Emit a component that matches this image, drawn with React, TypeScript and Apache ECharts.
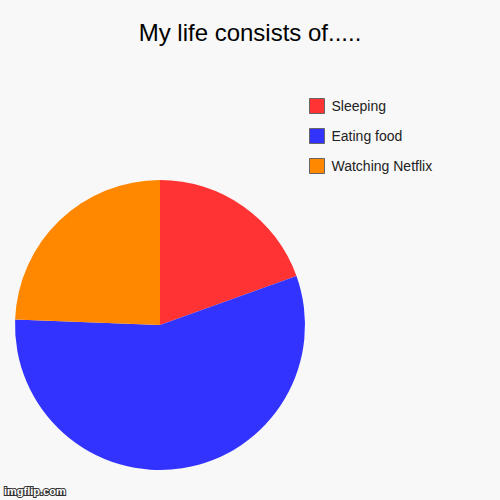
import * as echarts from "echarts";
import { useEffect, useRef } from "react";

const categories = ["Sleeping", "Eating food", "Watching Netflix"];
const values = [8, 23, 10];
const colors = ["#ff3333", "#3333ff", "#ff8800"];

const App = () => {
  const chartRef = useRef(null);

  useEffect(() => {
    if (!chartRef.current) {
      return;
    }
    const chart = echarts.init(chartRef.current, null, { renderer: "svg" });
    chart.setOption({
      animation: false,
      backgroundColor: "#f8f8f8",
      title: {
        text: "My life consists of.....",
        left: "center",
        top: 15,
        textStyle: {
          fontFamily: "Liberation Sans, Arial, sans-serif",
          fontSize: 24,
          fontWeight: "normal",
          color: "#000",
        },
      },
      legend: {
        orient: "vertical",
        left: 309,
        top: 98,
        padding: 0,
        itemWidth: 15,
        itemHeight: 15,
        itemGap: 14,
        icon: "rect",
        data: categories,
        itemStyle: { borderColor: "#666", borderWidth: 1 },
        textStyle: {
          fontFamily: "Liberation Sans, Arial, sans-serif",
          fontSize: 14,
          color: "#222",
          padding: [0, 0, 0, 2],
        },
      },
      graphic: [
        {
          type: "text",
          left: 3,
          top: 484,
          style: {
            text: "imgflip.com",
            fontFamily: "Liberation Sans, Arial, sans-serif",
            fontSize: 11,
            fontWeight: "bold",
            fill: "#fff",
            stroke: "#333",
            lineWidth: 2,
          },
        },
      ],
      series: [
        {
          type: "pie",
          center: [160, 325],
          radius: 145,
          startAngle: 90,
          clockwise: true,
          label: { show: false },
          labelLine: { show: false },
          emphasis: { disabled: true },
          data: categories.map((name, i) => ({
            name,
            value: values[i],
            itemStyle: { color: colors[i] },
          })),
        },
      ],
    });
    return () => {
      chart.dispose();
    };
  }, []);

  return (
    <div
      ref={chartRef}
      style={{ position: "fixed", left: 0, top: 0, width: "500px", height: "500px" }}
    ></div>
  );
};

export default App;
